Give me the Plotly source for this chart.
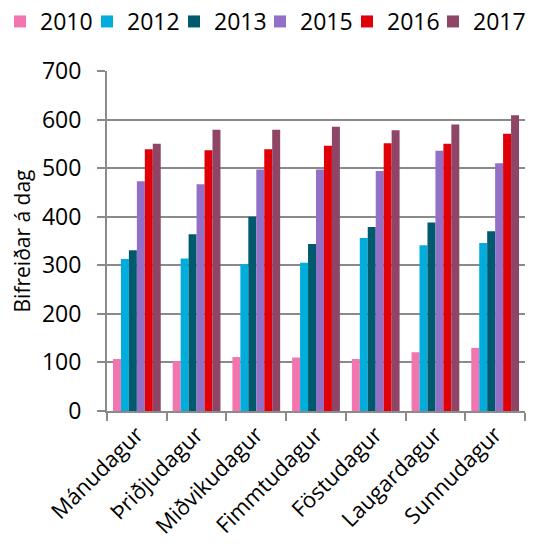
import plotly.graph_objects as go

categories = ["Mánudagur", "Þriðjudagur", "Miðvikudagur", "Fimmtudagur", "Föstudagur", "Laugardagur", "Sunnudagur"]
years = ["2010", "2012", "2013", "2015", "2016", "2017"]
v2010 = [107, 103, 111, 110, 107, 121, 130]
v2012 = [313, 314, 302, 305, 356, 341, 346]
v2013 = [331, 364, 400, 344, 379, 388, 370]
v2015 = [473, 467, 497, 497, 494, 536, 510]
v2016 = [539, 537, 539, 546, 551, 550, 571]
v2017 = [550, 579, 579, 585, 578, 590, 609]
series = [v2010, v2012, v2013, v2015, v2016, v2017]
colors = ["#F375AF", "#00ADDC", "#005A6E", "#9370C8", "#E00008", "#8E4566"]

W, H = 535, 554
legend_left_px = [0, 87, 174, 260, 347, 433]

font = "Open Sans, Liberation Sans, sans-serif"
grey = "#8A8A8A"

fig = go.Figure()
legend_layouts = {}
for i, (name, vals, col) in enumerate(zip(years, series, colors)):
    lname = "legend" if i == 0 else f"legend{i + 1}"
    fig.add_trace(go.Bar(x=categories, y=vals, name=name, legend=lname,
                         marker=dict(color=col, line=dict(width=0))))
    legend_layouts[lname] = dict(orientation="h", xref="container", yref="container",
                                 x=legend_left_px[i] / W, y=1.0, xanchor="left", yanchor="top",
                                 font=dict(size=23, family=font, color="#000000"),
                                 bgcolor="rgba(0,0,0,0)")

fig.update_layout(
    width=W, height=H,
    margin=dict(l=107, r=10, t=71, b=143, autoexpand=False),
    paper_bgcolor="white", plot_bgcolor="white",
    barmode="group", bargap=0.2, bargroupgap=0,
    font=dict(family=font, color="#000000", size=20),
    showlegend=True,
    **legend_layouts,
)
fig.update_yaxes(range=[0, 700], dtick=100, showgrid=True, gridcolor=grey, gridwidth=2,
                 showline=True, linecolor=grey, linewidth=2, ticks="outside",
                 tickcolor=grey, tickwidth=2, ticklen=8, tickfont=dict(size=23), automargin=False,
                 ticklabelstandoff=11,
                 title=dict(text="Bifreiðar á dag", font=dict(size=21), standoff=6), zeroline=False)
fig.update_xaxes(showline=True, linecolor=grey, linewidth=2, ticks="outside",
                 tickson="boundaries", tickcolor=grey, tickwidth=2, ticklen=8, tickangle=-45,
                 tickfont=dict(size=22), showgrid=False, automargin=False)

fig.write_html("out.html", config={"displayModeBar": False},
               post_script="document.body.style.margin='0';document.body.style.overflow='hidden';")
